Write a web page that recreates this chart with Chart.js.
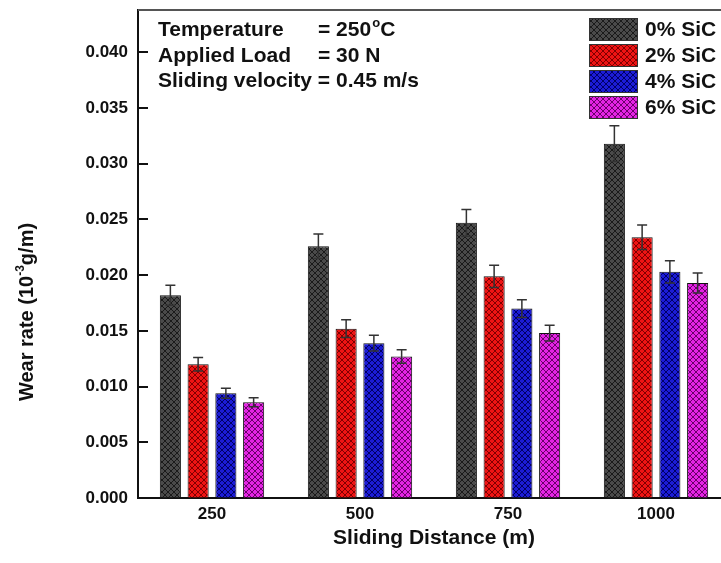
<!DOCTYPE html>
<html>
<head>
<meta charset="utf-8">
<script src="https://cdn.jsdelivr.net/npm/chart.js@4"></script>
<style>
html, body { margin: 0; padding: 0; background: #fff; overflow: hidden; }
#wrap { width: 721px; height: 563px; overflow: hidden; }
</style>
</head>
<body>
<div id="wrap"><canvas id="myChart" width="740" height="563"></canvas></div>
<script>
// sliding distance categories (m)
const distances = ['250', '500', '750', '1000'];
const seriesLabels = ['0% SiC', '2% SiC', '4% SiC', '6% SiC'];

// wear rate per SiC content
const wear0 = [0.0182, 0.0226, 0.0247, 0.0318];
const wear2 = [0.0120, 0.0152, 0.0199, 0.0234];
const wear4 = [0.0094, 0.0139, 0.0170, 0.0203];
const wear6 = [0.0086, 0.0127, 0.0148, 0.0193];

// error bar half heights
const err0 = [0.0009, 0.0011, 0.0012, 0.0016];
const err2 = [0.0006, 0.0008, 0.0010, 0.0011];
const err4 = [0.00045, 0.0007, 0.0008, 0.0010];
const err6 = [0.0004, 0.0006, 0.0007, 0.0009];

const FONT = '"Liberation Sans", Arial, sans-serif';

function hatch(fill, line) {
    const c = document.createElement('canvas');
    c.width = 6; c.height = 6;
    const g = c.getContext('2d');
    g.fillStyle = fill;
    g.fillRect(0, 0, 6, 6);
    g.strokeStyle = line;
    g.lineWidth = 1;
    g.beginPath();
    g.moveTo(0, 0); g.lineTo(6, 6);
    g.moveTo(0, 6); g.lineTo(6, 0);
    g.stroke();
    return g.createPattern(c, 'repeat');
}

const fills = [
    hatch('#4a4a4a', '#1a1a1a'),
    hatch('#ee1414', '#800000'),
    hatch('#1c1cd6', '#000066'),
    hatch('#e424e4', '#6a006a')
];
const values = [wear0, wear2, wear4, wear6];
const errors = [err0, err2, err4, err6];

const errorBars = {
    id: 'errorBars',
    afterDatasetsDraw(chart) {
        const ctx = chart.ctx;
        const y = chart.scales.y;
        ctx.save();
        ctx.strokeStyle = '#333';
        ctx.lineWidth = 1.5;
        chart.data.datasets.forEach((ds, i) => {
            chart.getDatasetMeta(i).data.forEach((bar, j) => {
                const top = y.getPixelForValue(ds.data[j] + errors[i][j]);
                const bot = y.getPixelForValue(ds.data[j] - errors[i][j]);
                ctx.beginPath();
                ctx.moveTo(bar.x, top); ctx.lineTo(bar.x, bot);
                ctx.moveTo(bar.x - 5, top); ctx.lineTo(bar.x + 5, top);
                ctx.moveTo(bar.x - 5, bot); ctx.lineTo(bar.x + 5, bot);
                ctx.stroke();
            });
        });
        ctx.restore();
    }
};

const decorations = {
    id: 'decorations',
    afterDraw(chart) {
        const ctx = chart.ctx;
        const a = chart.chartArea;
        const y = chart.scales.y;
        ctx.save();

        // top frame line
        ctx.strokeStyle = '#555';
        ctx.lineWidth = 2;
        ctx.beginPath();
        ctx.moveTo(a.left, a.top); ctx.lineTo(a.right, a.top);
        ctx.stroke();

        // inward y ticks
        ctx.strokeStyle = '#111';
        y.ticks.forEach(t => {
            const py = Math.round(y.getPixelForValue(t.value));
            ctx.beginPath();
            ctx.moveTo(a.left, py); ctx.lineTo(a.left + 10, py);
            ctx.stroke();
        });

        // test conditions
        ctx.fillStyle = '#111';
        ctx.font = 'bold 21px ' + FONT;
        ctx.textBaseline = 'alphabetic';
        const tx = a.left + 20, ex = a.left + 180;
        ctx.fillText('Temperature', tx, a.top + 26);
        ctx.fillText('= 250', ex, a.top + 26);
        let w = ctx.measureText('= 250').width;
        ctx.font = 'bold 13px ' + FONT;
        ctx.fillText('o', ex + w + 1, a.top + 17);
        ctx.font = 'bold 21px ' + FONT;
        ctx.fillText('C', ex + w + 9, a.top + 26);
        ctx.fillText('Applied Load', tx, a.top + 51.5);
        ctx.fillText('= 30 N', ex, a.top + 51.5);
        ctx.fillText('Sliding velocity = 0.45 m/s', tx, a.top + 77);

        // legend
        chart.data.datasets.forEach((ds, i) => {
            const by = a.top + 8 + i * 26;
            ctx.fillStyle = ds.backgroundColor;
            ctx.fillRect(a.right - 141, by, 49, 23);
            ctx.strokeStyle = '#333';
            ctx.lineWidth = 1;
            ctx.strokeRect(a.right - 141 + 0.5, by + 0.5, 48, 22);
            ctx.fillStyle = '#111';
            ctx.fillText(ds.label, a.right - 85, by + 18);
        });

        // y axis title with superscript
        ctx.translate(26, 312);
        ctx.rotate(-Math.PI / 2);
        const p1 = 'Wear rate (10', p2 = '-3', p3 = 'g/m)';
        ctx.font = 'bold 20px ' + FONT;
        const w1 = ctx.measureText(p1).width, w3 = ctx.measureText(p3).width;
        ctx.font = 'bold 12px ' + FONT;
        const w2 = ctx.measureText(p2).width;
        let x0 = -(w1 + w2 + w3) / 2;
        ctx.font = 'bold 20px ' + FONT;
        ctx.fillText(p1, x0, 7);
        ctx.font = 'bold 12px ' + FONT;
        ctx.fillText(p2, x0 + w1, -2);
        ctx.font = 'bold 20px ' + FONT;
        ctx.fillText(p3, x0 + w1 + w2, 7);

        ctx.restore();
    }
};

new Chart(document.getElementById('myChart').getContext('2d'), {
    type: 'bar',
    data: {
        labels: distances,
        datasets: values.map((v, i) => ({
            label: seriesLabels[i],
            data: v,
            backgroundColor: fills[i],
            borderColor: '#111',
            borderWidth: 1,
            barPercentage: 0.76,
            categoryPercentage: 0.75
        }))
    },
    options: {
        responsive: false,
        animation: false,
        devicePixelRatio: 1,
        layout: { padding: { top: 0, right: 10, left: 0, bottom: 0 } },
        plugins: {
            legend: { display: false },
            tooltip: { enabled: false }
        },
        scales: {
            x: {
                grid: { display: true, color: 'rgba(0,0,0,0)', drawTicks: false },
                border: { color: '#111', width: 2 },
                ticks: { color: '#111', font: { family: FONT, size: 17, weight: 'bold' }, padding: 6 },
                title: {
                    display: true,
                    text: 'Sliding Distance (m)',
                    color: '#111',
                    font: { family: FONT, size: 21, weight: 'bold' },
                    padding: { top: 4, bottom: 12 }
                },
                afterFit: s => { s.height = 65; }
            },
            y: {
                min: 0,
                max: 0.0438,
                grid: { display: true, color: 'rgba(0,0,0,0)', drawTicks: false },
                border: { color: '#111', width: 2 },
                ticks: {
                    stepSize: 0.005,
                    color: '#111',
                    padding: 10,
                    font: { family: FONT, size: 17, weight: 'bold' },
                    callback: v => v.toFixed(3)
                },
                afterBuildTicks: s => {
                    s.ticks = s.ticks.filter(t => Math.abs(t.value / 0.005 - Math.round(t.value / 0.005)) < 1e-6);
                },
                afterFit: s => { s.width = 138; s.paddingTop = 10; s.paddingBottom = 0; }
            }
        }
    },
    plugins: [errorBars, decorations]
});
</script>
</body>
</html>
